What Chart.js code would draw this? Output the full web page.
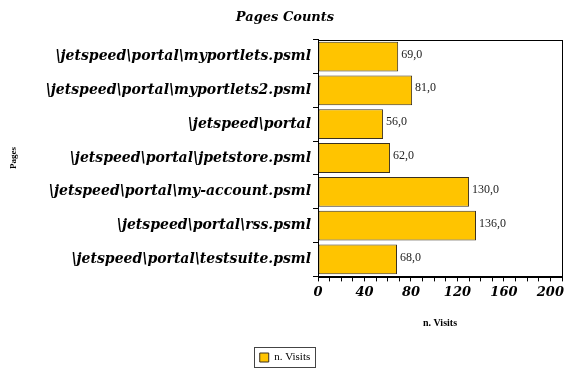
<!DOCTYPE html>
<html>
<head>
<meta charset="utf-8">
<script src="https://cdn.jsdelivr.net/npm/chart.js@4/dist/chart.umd.min.js"></script>
<style>
  html, body { margin: 0; padding: 0; background: #fff; }
  #Graph { display: block; }
</style>
</head>
<body>
<canvas id="Graph" width="568" height="370"></canvas>
<script>
// Data
const pages = [
    '\\jetspeed\\portal\\myportlets.psml',
    '\\jetspeed\\portal\\myportlets2.psml',
    '\\jetspeed\\portal',
    '\\jetspeed\\portal\\jpetstore.psml',
    '\\jetspeed\\portal\\my-account.psml',
    '\\jetspeed\\portal\\rss.psml',
    '\\jetspeed\\portal\\testsuite.psml'
];
const visits = [69, 81, 56, 62, 130, 136, 68];
const xTickLabels = [0, 40, 80, 120, 160, 200];

const serif = '"Liberation Serif", "DejaVu Serif", serif';
const wideSerif = '"DejaVu Serif", serif';

// Value labels to the right of each bar, plus a frame round the plot area and legend
const extrasPlugin = {
    id: 'extras',
    afterDatasetsDraw(chart) {
        const ctx = chart.ctx;
        const meta = chart.getDatasetMeta(0);
        ctx.save();
        ctx.fillStyle = '#222';
        ctx.font = '12px ' + serif;
        ctx.textBaseline = 'middle';
        meta.data.forEach((bar, i) => {
            ctx.fillText(visits[i].toFixed(1).replace('.', ','), bar.x + 3, bar.y - 2);
        });
        ctx.restore();
    },
    afterDraw(chart) {
        const ctx = chart.ctx;
        const a = chart.chartArea;
        ctx.save();
        ctx.strokeStyle = '#000';
        ctx.lineWidth = 1;
        ctx.strokeRect(Math.round(a.left) + 0.5, Math.round(a.top) + 0.5,
            Math.round(a.right - a.left), Math.round(a.bottom - a.top));
        const boxes = chart.legend.legendHitBoxes;
        if (boxes && boxes.length) {
            const b = boxes[0];
            ctx.strokeStyle = '#444';
            ctx.strokeRect(Math.round(b.left) - 5.5, Math.round(b.top) - 4.5,
                Math.round(b.width) + 10, Math.round(b.height) + 9);
        }
        ctx.restore();
    }
};

const ctx = document.getElementById('Graph').getContext('2d');
new Chart(ctx, {
    type: 'bar',
    data: {
        labels: pages,
        datasets: [{
            label: 'n. Visits',
            data: visits,
            backgroundColor: '#FFC400',
            borderColor: '#3a3020',
            borderWidth: 1,
            borderSkipped: false,
            barPercentage: 0.88,
            categoryPercentage: 1.0
        }]
    },
    options: {
        indexAxis: 'y',
        responsive: false,
        animation: false,
        layout: { padding: { left: 8, right: 6, top: 0, bottom: -3 } },
        plugins: {
            title: {
                display: true,
                text: 'Pages Counts',
                color: '#000',
                font: { family: wideSerif, size: 13, weight: 'bold', style: 'italic' },
                padding: { top: 10, bottom: 14 }
            },
            legend: {
                position: 'bottom',
                labels: {
                    color: '#000',
                    font: { family: serif, size: 11 },
                    boxWidth: 9,
                    boxHeight: 9,
                    padding: 2
                }
            },
            tooltip: { enabled: false }
        },
        scales: {
            x: {
                min: 0,
                max: 210,
                border: { display: true, color: '#000' },
                grid: { drawOnChartArea: false, color: '#000', tickLength: 5 },
                ticks: {
                    stepSize: 10,
                    autoSkip: false,
                    maxRotation: 0,
                    color: '#000',
                    font: { family: wideSerif, size: 13, weight: 'bold', style: 'italic' },
                    callback: (v) => xTickLabels.includes(v) ? String(v) : ''
                },
                title: {
                    display: true,
                    text: 'n. Visits',
                    color: '#000',
                    font: { family: serif, size: 10, weight: 'bold' },
                    padding: { top: 14, bottom: 21 }
                }
            },
            y: {
                afterFit: (scale) => { scale.width = 310; },
                border: { display: true, color: '#000' },
                grid: { drawOnChartArea: false, color: '#000', tickLength: 5 },
                ticks: {
                    color: '#000',
                    font: { family: wideSerif, size: 14, weight: 'bold', style: 'italic' },
                    padding: 2
                },
                title: {
                    display: true,
                    text: 'Pages',
                    color: '#000',
                    font: { family: serif, size: 9, weight: 'bold' },
                    padding: { top: 0, bottom: 28 }
                }
            }
        }
    },
    plugins: [extrasPlugin]
});
</script>
</body>
</html>
